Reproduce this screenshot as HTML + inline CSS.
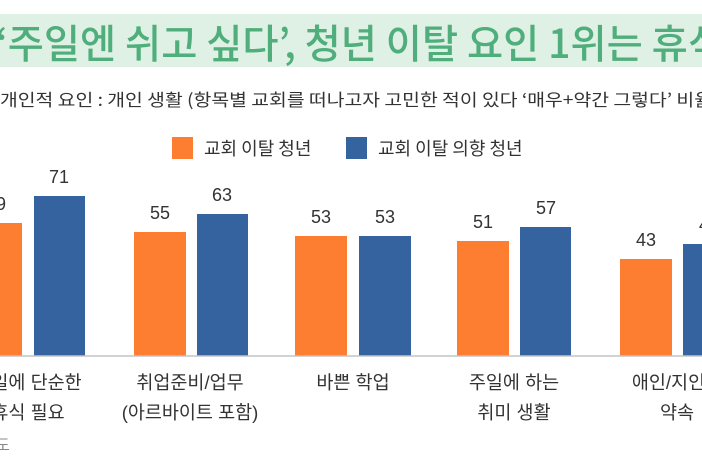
<!DOCTYPE html>
<html><head><meta charset="utf-8"><style>
html,body{margin:0;padding:0;background:#fff;width:702px;height:459px;overflow:hidden}
svg text{font-family:"Liberation Sans","Noto Sans CJK KR",sans-serif}
</style></head><body>
<svg width="702" height="459" viewBox="0 0 702 459" xmlns="http://www.w3.org/2000/svg">
<rect x="0" y="14" width="702" height="53" fill="#dff0e5"/>
<text x="-4" y="58" font-size="40" fill="#4fae7b" font-weight="500" textLength="728" lengthAdjust="spacingAndGlyphs" style="font-family:'Noto Sans CJK KR',sans-serif">‘주일엔 쉬고 싶다’, 청년 이탈 요인 1위는 휴식</text>
<text x="0" y="106" font-size="17" fill="#333" textLength="712" lengthAdjust="spacingAndGlyphs" style="font-family:'Noto Sans CJK KR',sans-serif">개인적 요인 : 개인 생활 (항목별 교회를 떠나고자 고민한 적이 있다 ‘매우+약간 그렇다’ 비율</text>
<rect x="172" y="137" width="21" height="22" fill="#fd7e30"/>
<text x="204" y="155" font-size="18" fill="#333" style="font-family:'Noto Sans CJK KR',sans-serif">교회 이탈 청년</text>
<rect x="346" y="137" width="21" height="22" fill="#3563a0"/>
<text x="378" y="155" font-size="18" fill="#333" style="font-family:'Noto Sans CJK KR',sans-serif">교회 이탈 의향 청년</text>
<g fill="#fd7e30">
<rect x="-30" y="223" width="52" height="133"/>
<rect x="134" y="232" width="52" height="124"/>
<rect x="295" y="236" width="52" height="120"/>
<rect x="457" y="241" width="52" height="115"/>
<rect x="620" y="259" width="52" height="97"/>
</g>
<g fill="#3563a0">
<rect x="34" y="196" width="51" height="160"/>
<rect x="197" y="214" width="51" height="142"/>
<rect x="359" y="236" width="52" height="120"/>
<rect x="520" y="227" width="51" height="129"/>
<rect x="683" y="244" width="51" height="112"/>
</g>
<line x1="0" y1="356" x2="702" y2="356" stroke="#c4c4c4" stroke-width="1.5"/>
<g font-size="18" fill="#333" text-anchor="middle">
<text x="-4" y="210">59</text><text x="59" y="183">71</text>
<text x="160" y="219">55</text><text x="222" y="201">63</text>
<text x="321" y="223">53</text><text x="385" y="223">53</text>
<text x="483" y="228">51</text><text x="546" y="214">57</text>
<text x="646" y="246">43</text><text x="709" y="231">49</text>
</g>
<g font-size="18.5" fill="#333" text-anchor="middle" style="font-family:'Noto Sans CJK KR',sans-serif">
<text x="28" y="389">주일에 단순한</text><text x="28" y="419">휴식 필요</text>
<text x="190" y="389">취업준비/업무</text><text x="190" y="419">(아르바이트 포함)</text>
<text x="353" y="389">바쁜 학업</text>
<text x="514" y="389">주일에 하는</text><text x="514" y="419">취미 생활</text>
<text x="677" y="389">애인/지인과</text><text x="677" y="419">약속</text>
</g>
<text x="-4" y="450" font-size="15" fill="#888" style="font-family:'Noto Sans CJK KR',sans-serif">도</text>
</svg>
</body></html>
